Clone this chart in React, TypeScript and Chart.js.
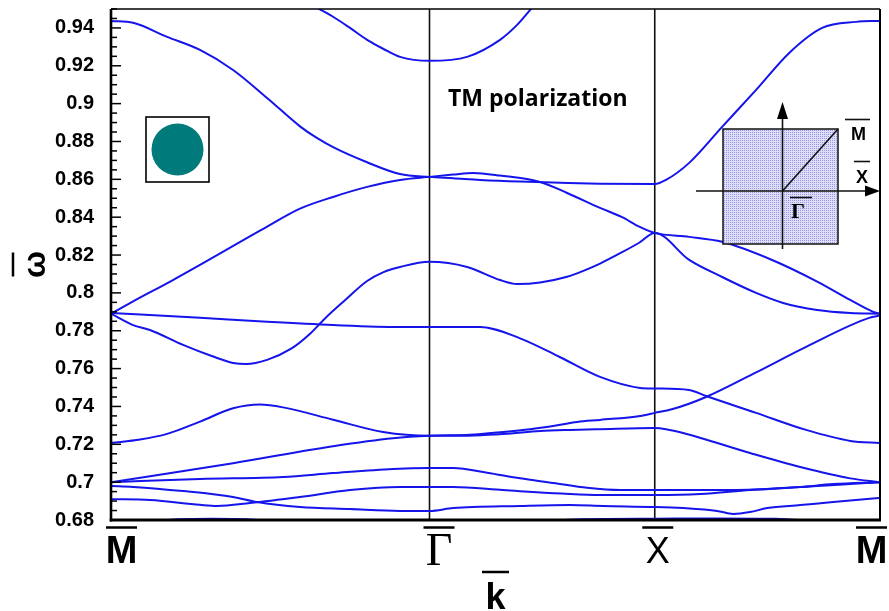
import React, { useEffect, useRef } from 'react';
import { Chart, registerables } from 'chart.js';

Chart.register(...registerables);

// Path through the square-lattice Brillouin zone: M -> Γ -> X -> M
const symmetryK = [0, 1.414, 2.414, 3.414];
const symmetryLabels = ['M', 'Γ', 'X', 'M'];

// Frequency axis
const yMin = 0.68;
const yMax = 0.95;
const yTickValues = [0.68, 0.7, 0.72, 0.74, 0.76, 0.78, 0.8, 0.82, 0.84, 0.86, 0.88, 0.9, 0.92, 0.94];
const minorTickStep = 0.005;

const titleText = 'TM polarization';
const xTitle = 'k';
const yTitle = 'ω';
const insetLabels = ['M', 'X', 'Γ'];

type Pt = [number, number];

// Bands as [k, ω] pairs
const bandTop: Pt[] = [
  [0.85, 0.9545], [0.915, 0.9506], [0.986, 0.9459], [1.061, 0.940], [1.137, 0.9337], [1.208, 0.929],
  [1.283, 0.9247], [1.414, 0.9226], [1.581, 0.9247], [1.727, 0.9337], [1.803, 0.9416], [1.861, 0.9495], [1.9, 0.955],
];

const bandA: Pt[] = [
  [0, 0.9437], [0.098, 0.9427], [0.249, 0.9353], [0.395, 0.9284], [0.542, 0.9178], [0.693, 0.903],
  [0.839, 0.888], [0.912, 0.882], [0.986, 0.877], [1.137, 0.869], [1.283, 0.8628], [1.414, 0.8613],
  [1.519, 0.8606], [1.639, 0.8597], [1.816, 0.8588], [1.994, 0.8582], [2.171, 0.8577], [2.414, 0.8575],
  [2.464, 0.8597], [2.567, 0.8687], [2.713, 0.8877], [2.864, 0.9073], [3.011, 0.9268], [3.157, 0.940],
  [3.308, 0.9432], [3.414, 0.9437],
];

const bandB: Pt[] = [
  [0, 0.789], [0.098, 0.7955], [0.275, 0.8068], [0.395, 0.8148], [0.693, 0.835], [0.839, 0.8445],
  [0.986, 0.8507], [1.137, 0.856], [1.283, 0.8597], [1.414, 0.8613],
  [1.519, 0.8625], [1.607, 0.8634], [1.727, 0.862], [1.905, 0.8586], [2.025, 0.8528], [2.171, 0.8449],
  [2.269, 0.840], [2.345, 0.835], [2.414, 0.8317],
  [2.567, 0.8296], [2.713, 0.827], [2.935, 0.8174], [3.135, 0.806], [3.282, 0.7963], [3.384, 0.790], [3.414, 0.789],
];

const bandC: Pt[] = [
  [0, 0.789], [0.098, 0.783], [0.173, 0.7804], [0.32, 0.7725], [0.45, 0.7665], [0.542, 0.763], [0.6, 0.7624],
  [0.693, 0.7646], [0.8, 0.7705], [0.88, 0.778], [0.95, 0.7865], [1.03, 0.7952], [1.137, 0.8063],
  [1.21, 0.811], [1.283, 0.8137], [1.414, 0.8164],
  [1.581, 0.8137], [1.727, 0.8068], [1.803, 0.8047], [1.905, 0.8055], [2.025, 0.8085], [2.1, 0.8118],
  [2.171, 0.8155], [2.269, 0.8215], [2.345, 0.8265], [2.414, 0.8317],
  [2.567, 0.8174], [2.713, 0.8084], [2.864, 0.800], [2.984, 0.7947], [3.135, 0.791], [3.282, 0.7894], [3.414, 0.789],
];

const bandD: Pt[] = [
  [0, 0.7894], [0.395, 0.7868], [0.693, 0.7847], [0.986, 0.783], [1.283, 0.782], [1.414, 0.782],
  [1.639, 0.782], [1.816, 0.776], [1.994, 0.766], [2.171, 0.7556], [2.349, 0.7498], [2.414, 0.7495],
  [2.567, 0.7487], [2.642, 0.7455], [2.864, 0.7366], [3.086, 0.7276], [3.282, 0.7218], [3.414, 0.7207],
];

const bandE: Pt[] = [
  [0, 0.7207], [0.129, 0.7225], [0.249, 0.7255], [0.395, 0.732], [0.542, 0.739], [0.662, 0.741],
  [0.764, 0.7395], [0.986, 0.733], [1.208, 0.7265], [1.414, 0.7245],
  [1.519, 0.7245], [1.741, 0.7255], [1.905, 0.727], [2.038, 0.7276], [2.171, 0.728], [2.414, 0.7286],
  [2.464, 0.728], [2.54, 0.726], [2.837, 0.7154], [3.06, 0.708], [3.282, 0.702], [3.414, 0.700],
];

const bandF: Pt[] = [
  [0, 0.700], [0.542, 0.710], [0.986, 0.719], [1.252, 0.7232], [1.414, 0.7245],
  [1.594, 0.725], [1.741, 0.7265], [1.861, 0.728], [1.963, 0.7297], [2.07, 0.7318], [2.171, 0.7329],
  [2.349, 0.735], [2.414, 0.7366],
  [2.49, 0.7385], [2.642, 0.745], [2.864, 0.758], [3.086, 0.7715], [3.366, 0.7868], [3.414, 0.788],
];

const bandG: Pt[] = [
  [0, 0.700], [0.395, 0.7017], [0.764, 0.7027], [0.986, 0.7048], [1.252, 0.707], [1.414, 0.7075],
  [1.519, 0.7075], [1.67, 0.705], [1.816, 0.702], [1.963, 0.6996], [2.114, 0.697], [2.26, 0.6958], [2.414, 0.6958],
  [2.691, 0.6958], [2.882, 0.6963], [3.06, 0.6974], [3.282, 0.699], [3.414, 0.700],
];

const bandH: Pt[] = [
  [0, 0.691], [0.173, 0.6906], [0.395, 0.688], [0.471, 0.6874], [0.617, 0.689], [0.839, 0.6922],
  [1.061, 0.6958], [1.283, 0.6974], [1.414, 0.6974],
  [1.519, 0.6974], [1.741, 0.6958], [2.0, 0.694], [2.171, 0.6932], [2.414, 0.6932],
  [2.616, 0.6937], [2.837, 0.6958], [3.06, 0.6974], [3.206, 0.699], [3.414, 0.700],
];

const bandI: Pt[] = [
  [0, 0.698], [0.098, 0.6975], [0.32, 0.6953], [0.542, 0.6922], [0.648, 0.6895], [0.839, 0.6869],
  [1.061, 0.6858], [1.283, 0.6848], [1.414, 0.6848],
  [1.519, 0.6863], [1.816, 0.6874], [2.038, 0.6879], [2.185, 0.6874], [2.414, 0.6869],
  [2.54, 0.6863], [2.691, 0.6848], [2.762, 0.6832], [2.837, 0.6842], [2.913, 0.6863], [3.06, 0.6879],
  [3.206, 0.6895], [3.357, 0.6911], [3.414, 0.6916],
];

const bandJ: Pt[] = [
  [0, 0.6765], [0.2, 0.6795], [0.3, 0.6804], [0.45, 0.6807], [0.6, 0.6804], [0.75, 0.679], [1.0, 0.6772],
  [1.414, 0.6765], [1.8, 0.6782], [2.09, 0.6804], [2.414, 0.6807], [2.7, 0.6808], [2.95, 0.6806],
  [3.1, 0.6795], [3.414, 0.6765],
];

const bands: Pt[][] = [bandTop, bandA, bandB, bandC, bandD, bandE, bandF, bandG, bandH, bandI, bandJ];

const BAND_COLOR = 'rgb(20, 20, 235)';

function hLine(ctx: CanvasRenderingContext2D, x1: number, x2: number, y: number, w: number) {
  ctx.lineWidth = w;
  ctx.beginPath();
  ctx.moveTo(x1, y);
  ctx.lineTo(x2, y);
  ctx.stroke();
}

function vLine(ctx: CanvasRenderingContext2D, x: number, y1: number, y2: number, w: number) {
  ctx.lineWidth = w;
  ctx.beginPath();
  ctx.moveTo(x, y1);
  ctx.lineTo(x, y2);
  ctx.stroke();
}

function makeDotPattern(ctx: CanvasRenderingContext2D) {
  const c = document.createElement('canvas');
  c.width = 2;
  c.height = 2;
  const p = c.getContext('2d')!;
  p.fillStyle = 'rgb(222, 222, 248)';
  p.fillRect(0, 0, 2, 2);
  p.fillStyle = 'rgb(150, 150, 226)';
  p.fillRect(0, 0, 1, 1);
  return ctx.createPattern(c, 'repeat');
}

const decorations = {
  id: 'bandDecorations',
  beforeDatasetsDraw(chart: any) {
    const { ctx, chartArea: a, scales } = chart;
    const xs = scales.x;
    ctx.save();
    ctx.strokeStyle = '#111';
    for (const k of symmetryK.slice(1, 3)) {
      const px = xs.getPixelForValue(k);
      vLine(ctx, px, a.top, a.bottom, 1.6);
    }
    ctx.restore();
  },
  afterDatasetsDraw(chart: any) {
    const { ctx, chartArea: a, scales } = chart;
    const xs = scales.x;
    const ys = scales.y;
    ctx.save();
    ctx.strokeStyle = '#000';
    ctx.fillStyle = '#000';

    // inward ticks on the frequency axis
    const nMinor = Math.round((yMax - yMin) / minorTickStep);
    for (let i = 0; i <= nMinor; i++) {
      const v = yMin + i * minorTickStep;
      const py = ys.getPixelForValue(v);
      const major = yTickValues.some((t) => Math.abs(t - v) < 1e-6);
      hLine(ctx, a.left, a.left + (major ? 10 : 6), py, 1.5);
    }

    // frame
    hLine(ctx, a.left, a.right, a.top, 1.4);
    vLine(ctx, a.right, a.top, a.bottom, 2);
    vLine(ctx, a.left, a.top, a.bottom + 1.5, 2.6);
    hLine(ctx, a.left - 1.3, a.right + 1, a.bottom, 3);

    // symmetry point labels with overbars
    const fonts = [
      'bold 38px "Liberation Sans"',
      '46px "Liberation Serif"',
      '36px "Liberation Sans"',
      'bold 38px "Liberation Sans"',
    ];
    const nudges = [10.5, 9.5, 3, -8.5];
    const baselines = [563, 565, 563, 563];
    ctx.textAlign = 'center';
    ctx.textBaseline = 'alphabetic';
    symmetryK.forEach((k, i) => {
      const cx = xs.getPixelForValue(k) + nudges[i];
      ctx.font = fonts[i];
      ctx.fillText(symmetryLabels[i], cx, baselines[i]);
      hLine(ctx, cx - 15.5, cx + 15.5, 527.5, 2.5);
    });

    // wavevector title
    const kx = (a.left + a.right) / 2;
    ctx.font = 'bold 36px "Liberation Sans"';
    ctx.fillText(xTitle, kx, 609);
    hLine(ctx, kx - 13.5, kx + 13.5, 572, 2.5);

    // frequency title, rotated
    const wy = (a.top + a.bottom) / 2;
    ctx.save();
    ctx.translate(36, wy);
    ctx.rotate(-Math.PI / 2);
    ctx.font = 'bold 32px "Liberation Sans"';
    ctx.textBaseline = 'middle';
    ctx.fillText(yTitle, 0, 0);
    ctx.restore();
    vLine(ctx, 13, wy - 12, wy + 12, 2.5);

    // polarization note
    ctx.textAlign = 'left';
    ctx.font = 'bold 23px "Open Sans"';
    ctx.fillText(titleText, 448, 106);

    // unit-cell inset: dielectric rod in a square cell
    ctx.fillStyle = '#fff';
    ctx.fillRect(146, 117, 63, 65);
    ctx.lineWidth = 1.6;
    ctx.strokeRect(146, 117, 63, 65);
    ctx.fillStyle = 'rgb(0, 122, 122)';
    ctx.beginPath();
    ctx.arc(177.5, 149.5, 26, 0, Math.PI * 2);
    ctx.fill();

    // Brillouin zone inset
    const bx0 = 723, bx1 = 838, by0 = 129, by1 = 244;
    const cx = 782.5, cy = 191;
    ctx.fillStyle = makeDotPattern(ctx) || 'rgb(200,200,240)';
    ctx.fillRect(bx0, by0, bx1 - bx0, by1 - by0);
    ctx.strokeStyle = '#111';
    ctx.lineWidth = 1.5;
    ctx.strokeRect(bx0, by0, bx1 - bx0, by1 - by0);
    hLine(ctx, 696, 868, cy, 1.6);
    vLine(ctx, cx, 249, 118, 1.6);
    ctx.lineWidth = 1.6;
    ctx.beginPath();
    ctx.moveTo(cx, cy);
    ctx.lineTo(bx1, by0);
    ctx.stroke();
    ctx.fillStyle = '#000';
    ctx.beginPath();
    ctx.moveTo(880, cy);
    ctx.lineTo(865, cy - 5.5);
    ctx.lineTo(865, cy + 5.5);
    ctx.closePath();
    ctx.fill();
    ctx.beginPath();
    ctx.moveTo(cx, 102);
    ctx.lineTo(cx - 5.5, 119);
    ctx.lineTo(cx + 5.5, 119);
    ctx.closePath();
    ctx.fill();

    ctx.font = 'bold 18px "Liberation Sans"';
    ctx.textAlign = 'left';
    ctx.fillText(insetLabels[0], 851, 140);
    hLine(ctx, 845, 870, 119.5, 1.6);
    ctx.fillText(insetLabels[1], 856, 183);
    hLine(ctx, 854, 870, 161.5, 1.6);
    ctx.font = 'bold 22px "Liberation Serif"';
    ctx.fillText(insetLabels[2], 791, 218);
    hLine(ctx, 790, 812, 197.5, 1.6);

    ctx.restore();
  },
};

export default function App() {
  const canvasRef = useRef<HTMLCanvasElement | null>(null);

  useEffect(() => {
    const canvas = canvasRef.current;
    if (!canvas) return;
    const datasets = bands.map((b) => ({
      data: b.map(([k, w]) => ({ x: k, y: w })),
      borderColor: BAND_COLOR,
      borderWidth: 2,
      pointRadius: 0,
      fill: false,
      cubicInterpolationMode: 'monotone' as const,
      clip: 0,
    }));

    const chart = new Chart(canvas, {
      type: 'line',
      data: { datasets },
      options: {
        animation: false,
        responsive: true,
        maintainAspectRatio: false,
        events: [],
        layout: { padding: { top: 9, right: 9, left: 0, bottom: 0 } },
        plugins: { legend: { display: false }, tooltip: { enabled: false } },
        scales: {
          x: {
            type: 'linear',
            min: symmetryK[0],
            max: symmetryK[symmetryK.length - 1],
            ticks: { display: false },
            grid: { display: false, drawTicks: false },
            border: { display: false },
            afterFit: (s: any) => {
              s.height = 91;
              s.paddingLeft = 0;
              s.paddingRight = 0;
            },
          },
          y: {
            type: 'linear',
            min: yMin,
            max: yMax,
            afterBuildTicks: (s: any) => {
              s.ticks = yTickValues.map((v) => ({ value: v }));
            },
            ticks: {
              autoSkip: false,
              padding: 17,
              color: '#000',
              font: { family: '"Liberation Sans"', weight: 'bold', size: 20 },
              callback: (v: any) => String(Number(Number(v).toFixed(2))),
            },
            grid: { display: false, drawTicks: false },
            border: { display: false },
            afterFit: (s: any) => {
              s.width = 111;
              s.paddingTop = 0;
              s.paddingBottom = 0;
            },
          },
        },
      },
      plugins: [decorations],
    } as any);

    return () => chart.destroy();
  }, []);

  return (
    <div style={{ position: 'fixed', left: 0, top: 0, width: 889, height: 611, background: '#fff' }}>
      <canvas ref={canvasRef} />
    </div>
  );
}
